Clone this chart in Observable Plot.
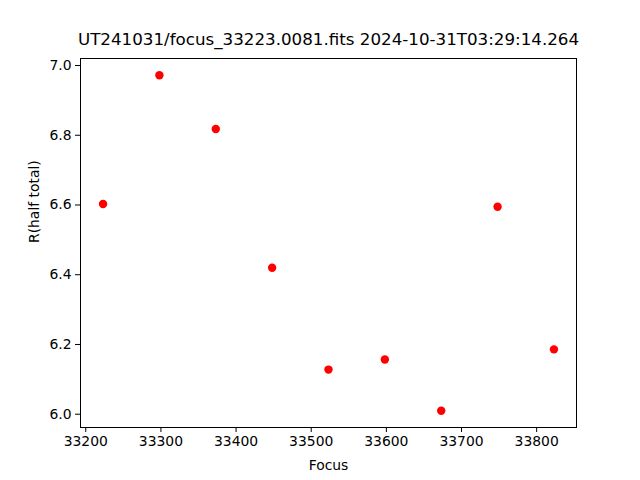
<!DOCTYPE html>
<html>
<head>
<meta charset="utf-8">
<script src="https://cdn.jsdelivr.net/npm/d3@7"></script>
<script src="https://cdn.jsdelivr.net/npm/@observablehq/plot@0.6"></script>
<style>
  html, body { margin: 0; padding: 0; background: #fff; }
  svg { display: block; }
</style>
</head>
<body>
<div id="chart"></div>
<script>
const title = "UT241031/focus_33223.0081.fits 2024-10-31T03:29:14.264";
const focus = [33223, 33298, 33373, 33448, 33523, 33598, 33673, 33748, 33823];
const rHalf = [6.603, 6.972, 6.818, 6.420, 6.128, 6.157, 6.010, 6.595, 6.186];
const xTicks = [33200, 33300, 33400, 33500, 33600, 33700, 33800];
const yTicks = [6.0, 6.2, 6.4, 6.6, 6.8, 7.0];
const xLabel = "Focus";
const yLabel = "R(half total)";

const data = focus.map((f, i) => ({focus: f, r: rHalf[i]}));

const xPad = (d3.max(focus) - d3.min(focus)) * 0.05;
const yPad = (d3.max(rHalf) - d3.min(rHalf)) * 0.05;

const chart = Plot.plot({
  width: 640,
  height: 480,
  marginLeft: 80,
  marginRight: 64,
  marginTop: 58,
  marginBottom: 53,
  style: {fontFamily: "DejaVu Sans", fontSize: "13.9px", color: "black", background: "white"},
  x: {
    domain: [d3.min(focus) - xPad, d3.max(focus) + xPad],
    ticks: xTicks,
    tickFormat: d => String(d),
    tickSize: 5,
    tickPadding: 4,
    label: null
  },
  y: {
    domain: [d3.min(rHalf) - yPad, d3.max(rHalf) + yPad],
    ticks: yTicks,
    tickFormat: d3.format(".1f"),
    tickSize: 5,
    tickPadding: 4,
    label: null
  },
  marks: [
    Plot.frame({stroke: "black", strokeWidth: 1}),
    Plot.dot(data, {x: "focus", y: "r", r: 4.2, fill: "red", stroke: "none"}),
    Plot.text([title], {frameAnchor: "top", dy: -14, fontSize: 16.7, fill: "black", lineAnchor: "bottom"}),
    Plot.text([xLabel], {frameAnchor: "bottom", dy: 42, fontSize: 13.9, fill: "black", lineAnchor: "bottom"}),
    Plot.text([yLabel], {frameAnchor: "left", dx: -46, rotate: -90, fontSize: 13.9, fill: "black", lineAnchor: "middle"})
  ]
});
document.getElementById("chart").appendChild(chart);
</script>
</body>
</html>
